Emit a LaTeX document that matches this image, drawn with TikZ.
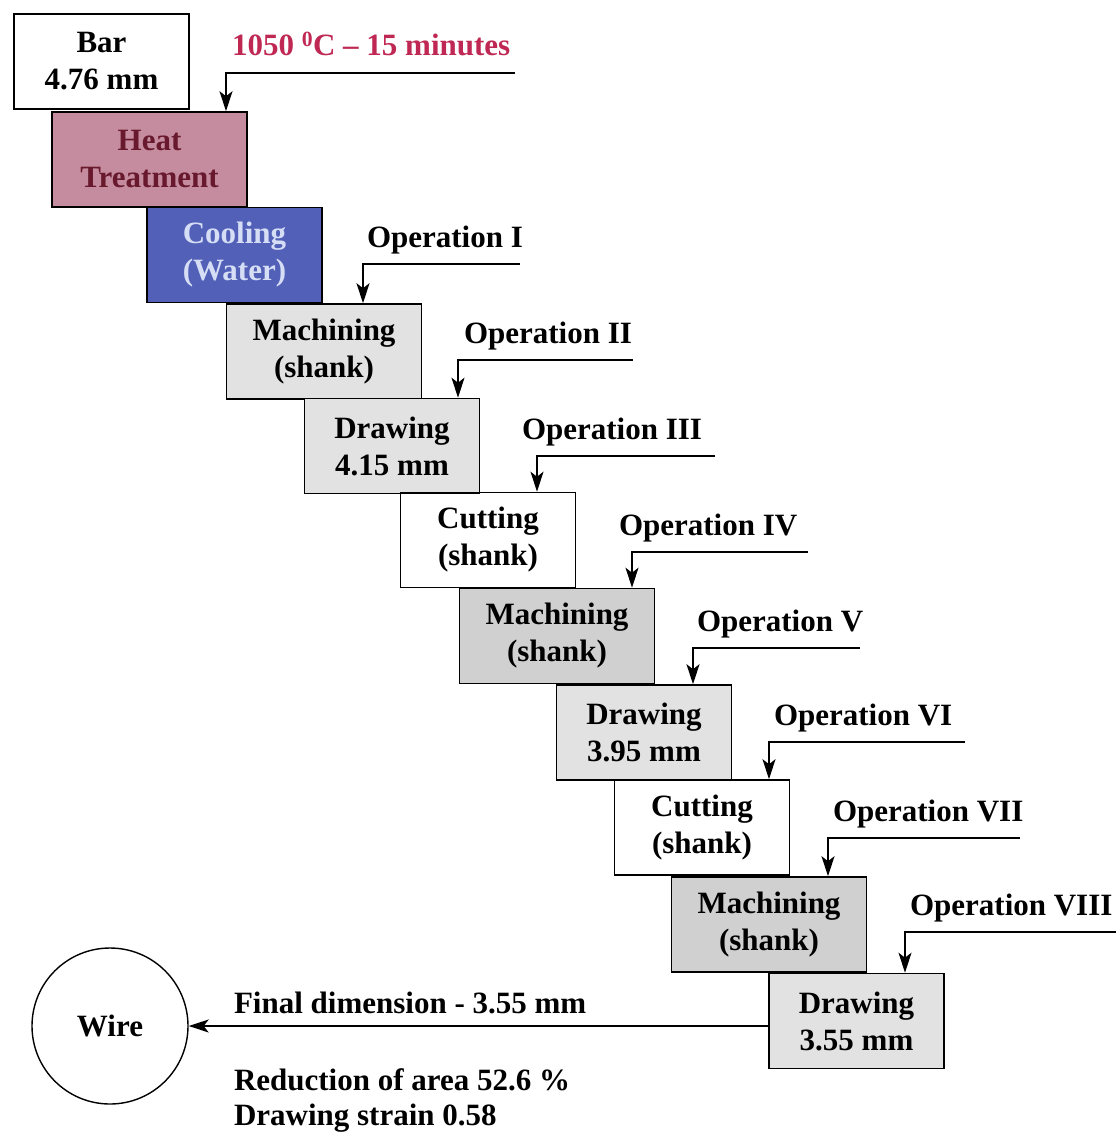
\documentclass[tikz,border=0pt]{standalone}
\usepackage{fontspec}
\setmainfont{Liberation Serif}
\usetikzlibrary{arrows.meta}
\definecolor{heatfill}{RGB}{196,140,158}
\definecolor{heattext}{RGB}{105,25,45}
\definecolor{coolfill}{RGB}{82,96,184}
\definecolor{cooltext}{RGB}{214,222,246}
\definecolor{tempred}{RGB}{192,40,84}
\definecolor{dotlight}{RGB}{226,226,226}
\definecolor{dotdark}{RGB}{208,208,208}

\tikzset{
  proc/.style={draw,line width=1.6pt,minimum height=95pt,align=center,inner sep=0pt},
  narrow/.style={proc,minimum width=175pt},
  wide/.style={proc,minimum width=195pt},
  oplabel/.style={anchor=base west},
  feed/.style={-{Stealth[length=20pt,width=13pt,inset=5pt]}},
}

\begin{document}
\begin{tikzpicture}[x=1pt,y=-1pt,font=\fontsize{31}{37}\selectfont\bfseries,line width=1.4pt]
      \useasboundingbox (0,0) rectangle (1116,1132);
      % process steps
      \node[narrow] (bar) at (101.5,61.5) {Bar\\4.76 mm};
      \node[wide,fill=heatfill,text=heattext] (heat) at (149.5,159.5) {Heat\\Treatment};
      \node[narrow,fill=coolfill,text=cooltext] (cool) at (234.5,255) {Cooling\\(Water)};
      \node[wide,fill=dotlight] (mA) at (324,351.5) {Machining\\(shank)};
      \node[narrow,fill=dotlight] (dA) at (392,446) {Drawing\\4.15 mm};
      \node[narrow] (cA) at (488,540) {Cutting\\(shank)};
      \node[wide,fill=dotdark] (mB) at (557,636) {Machining\\(shank)};
      \node[narrow,fill=dotlight] (dB) at (644,732.5) {Drawing\\3.95 mm};
      \node[narrow] (cB) at (702,827.5) {Cutting\\(shank)};
      \node[wide,fill=dotdark] (mC) at (769,924.5) {Machining\\(shank)};
      \node[narrow,fill=dotlight] (dC) at (856.5,1021) {Drawing\\3.55 mm};
      % heat treatment input
      \node[oplabel,text=tempred] (temp) at (228,56) {1050 \textsuperscript{0}C -- 15 minutes};
      \coordinate (eT) at (515,73);
      \coordinate (kT) at (226,73);
      \draw[feed] (eT) -- (kT) -- (kT |- heat.north);
      % operations
      \foreach \b/\ly/\xr/\xa/\tx/\op in {mA/264/520/363/363/I,dA/360/633/458/460/II,
          cA/456/715/537/518/III,mB/552/808/632/615/IV,dB/648/860/693/693/V,
          cB/742/965/769/770/VI,mC/838/1020/828/829/VII,dC/932/1116/905/906/VIII}{
        \node[oplabel] (op\op) at (\tx,\ly-17) {Operation \op};
        \coordinate (e\op) at (\xr,\ly);
        \coordinate (k\op) at (\xa,\ly);
        \draw[feed] (e\op) -- (k\op) -- (k\op |- \b.north);
      }
      % final product
      \node[draw,circle,minimum size=156pt,inner sep=0pt] (wire) at (110,1026) {Wire};
      \draw[feed] (wire.east -| dC.west) -- (wire.east);
      \node[oplabel] (final) at (230,1013) {Final dimension - 3.55 mm};
      \node[oplabel] (reduc) at (230,1090) {Reduction of area 52.6 \%};
      \node[oplabel] (strain) at (230,1125) {Drawing strain 0.58};
\end{tikzpicture}
\end{document}
